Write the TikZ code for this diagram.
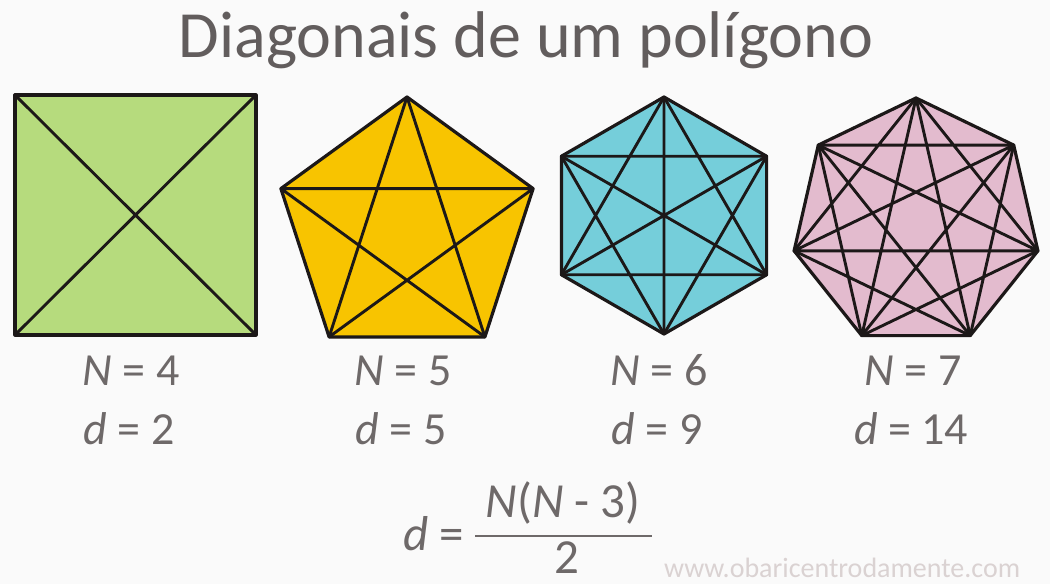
\documentclass[tikz,border=0pt]{standalone}
\usepackage{fontspec}
\setmainfont{Carlito}
\usepackage{xcolor}
\usepackage{tikz}
\definecolor{fundo}{RGB}{250,250,250}
\definecolor{traco}{RGB}{28,24,24}
\definecolor{cinza}{RGB}{110,105,105}
\definecolor{titulo}{RGB}{98,93,93}
\definecolor{marca}{RGB}{218,210,210}
\definecolor{verde}{RGB}{182,219,125}
\definecolor{amarelo}{RGB}{248,196,0}
\definecolor{ciano}{RGB}{117,206,218}
\definecolor{rosa}{RGB}{227,187,206}
\tikzset{
  lado/.style={draw=traco, line width=3.2pt, line join=round},
  diag/.style={draw=traco, line width=2.9pt, line join=round},
  rotulo/.style={text=cinza, font=\fontsize{46}{52}\selectfont, anchor=base, inner sep=0pt},
  formula/.style={rotulo, font=\fontsize{49}{54}\selectfont}
}

\begin{document}
\begin{tikzpicture}[x=1pt, y=-1pt]
            \clip (0,0) rectangle (1050,584);
            \fill[fundo] (0,0) rectangle (1050,584);

            \node[text=titulo, font=\fontsize{66}{72}\selectfont, anchor=base, inner sep=0pt] (titulo) at (526,57) {Diagonais de um polígono};

            \coordinate (q1) at (15,95); \coordinate (q2) at (256,95);
            \coordinate (q3) at (256,335); \coordinate (q4) at (15,335);
            \fill[verde] (q1) -- (q2) -- (q3) -- (q4) -- cycle;
            \draw[diag] (q1) -- (q3) (q2) -- (q4);
            \draw[lado] (q1) -- (q2) -- (q3) -- (q4) -- cycle;

            \coordinate (p1) at (407,97); \coordinate (p2) at (280.9,188.6);
            \coordinate (p3) at (329.1,336.9); \coordinate (p4) at (484.9,336.9);
            \coordinate (p5) at (533.1,188.6);
            \fill[amarelo] (p1) -- (p2) -- (p3) -- (p4) -- (p5) -- cycle;
            \draw[diag] (p1) -- (p3) -- (p5) -- (p2) -- (p4) -- cycle;
            \draw[lado] (p1) -- (p2) -- (p3) -- (p4) -- (p5) -- cycle;

            \coordinate (h1) at (664,97); \coordinate (h2) at (561.4,156.25);
            \coordinate (h3) at (561.4,274.75); \coordinate (h4) at (664,334);
            \coordinate (h5) at (766.6,274.75); \coordinate (h6) at (766.6,156.25);
            \fill[ciano] (h1) -- (h2) -- (h3) -- (h4) -- (h5) -- (h6) -- cycle;
            \draw[diag] (h1) -- (h3) -- (h5) -- cycle (h2) -- (h4) -- (h6) -- cycle;
            \draw[diag] (h1) -- (h4) (h2) -- (h5) (h3) -- (h6);
            \draw[lado] (h1) -- (h2) -- (h3) -- (h4) -- (h5) -- (h6) -- cycle;

            \coordinate (s1) at (916,98); \coordinate (s2) at (818.3,145.1);
            \coordinate (s3) at (794.1,250.8); \coordinate (s4) at (861.8,335.6);
            \coordinate (s5) at (970.2,335.6); \coordinate (s6) at (1037.9,250.8);
            \coordinate (s7) at (1013.7,145.1);
            \fill[rosa] (s1) -- (s2) -- (s3) -- (s4) -- (s5) -- (s6) -- (s7) -- cycle;
            \draw[diag] (s1) -- (s3) -- (s5) -- (s7) -- (s2) -- (s4) -- (s6) -- cycle;
            \draw[diag] (s1) -- (s4) -- (s7) -- (s3) -- (s6) -- (s2) -- (s5) -- cycle;
            \draw[lado] (s1) -- (s2) -- (s3) -- (s4) -- (s5) -- (s6) -- (s7) -- cycle;

            \node[rotulo] (n4) at (131,385) {\textit{N} = 4};
            \node[rotulo] (d4) at (129,444) {\textit{d} = 2};
            \node[rotulo] (n5) at (403,385) {\textit{N} = 5};
            \node[rotulo] (d5) at (401,444) {\textit{d} = 5};
            \node[rotulo] (n6) at (659,385) {\textit{N} = 6};
            \node[rotulo] (d6) at (657,444) {\textit{d} = 9};
            \node[rotulo] (n7) at (913,385) {\textit{N} = 7};
            \node[rotulo] (d7) at (911,444) {\textit{d} = 14};

            \node[formula, anchor=base east] (deq) at (464,550) {\textit{d} =};
            \node[formula] (num) at (563,517) {\textit{N}(\textit{N} - 3)};
            \node[formula] (den) at (567,573) {2};
            \coordinate (barra1) at (475,536); \coordinate (barra2) at (652,536);
            \draw[cinza, line width=1.8pt] (barra1) -- (barra2);

            \node[text=marca, font=\fontsize{28}{32}\selectfont, anchor=base west, inner sep=0pt] (site) at (664,577) {www.obaricentrodamente.com};
        \end{tikzpicture}
\end{document}
